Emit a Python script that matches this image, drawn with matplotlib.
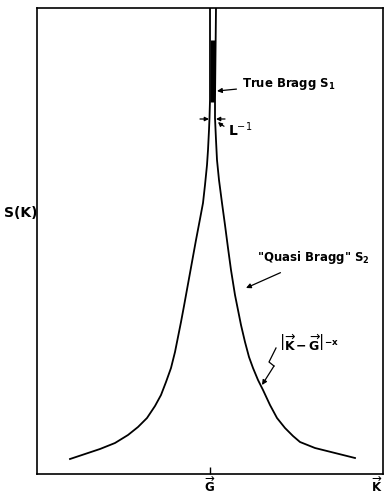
import matplotlib
matplotlib.use("Agg")
import matplotlib.pyplot as plt

# S(K) around the Bragg point G (k = K - G, arbitrary units, S arbitrary units)
# left branch, bottom -> top
k_left = [-140, -125, -110, -95, -82, -72, -63, -55, -49, -44, -39, -35, -32, -29, -26,
          -22, -18, -14, -10, -7, -5, -3, -2, -1, -0.5, 0, 0]
s_left = [15, 20, 25, 31, 39, 47, 56, 68, 79, 92, 106, 122, 137, 152, 168,
          190, 212, 234, 255, 271, 289, 309, 324, 344, 356, 374, 466]
# right branch, top -> bottom
k_right = [6, 5, 5, 6, 7, 9, 12, 15, 18, 21, 25, 28, 31, 35, 39, 43, 48, 53,
           60, 67, 75, 83, 90, 105, 125, 145]
s_right = [466, 374, 356, 334, 314, 294, 271, 249, 226, 204, 179, 164, 149, 132, 117, 106, 94, 84,
           69, 56, 46, 38, 32, 26, 21, 16]
# the true Bragg spike (filled part)
spike_s = [372, 434]
spike_k0 = [0, 0.5]
spike_k1 = [4.5, 5.5]

plt.rcParams['font.family'] = ['DejaVu Sans']
plt.rcParams['mathtext.fontset'] = 'dejavusans'

fig = plt.figure(figsize=(3.88, 4.95), dpi=100)
ax = fig.add_axes([37/388, 21/495, 346/388, 466/495])
ax.set_xlim(-173, 173)
ax.set_ylim(0, 466)

ax.plot(k_left, s_left, color='black', lw=1.3, solid_joinstyle='round')
ax.plot(k_right, s_right, color='black', lw=1.3, solid_joinstyle='round')
ax.fill_betweenx(spike_s, spike_k0, spike_k1, color='black', lw=0)

for sp in ax.spines.values():
    sp.set_linewidth(1.2)
ax.set_xticks([0])
ax.set_xticklabels([])
ax.set_yticks([])
ax.tick_params(axis='x', direction='in', length=5, width=1)

fs = 8.5
arr = dict(arrowstyle='-|>', color='black', lw=0.9, mutation_scale=7, shrinkA=0, shrinkB=0)

# True Bragg
ax.annotate(r'True Bragg S$_\mathregular{1}$', xy=(7, 383), xytext=(32, 390),
            fontsize=fs, fontweight='bold', va='center', ha='left',
            arrowprops=dict(arr, shrinkA=2))
# L^-1 width arrows
ax.annotate('', xy=(-1, 355), xytext=(-10, 355), arrowprops=dict(arr, mutation_scale=6))
ax.annotate('', xy=(6, 355), xytext=(15, 355), arrowprops=dict(arr, mutation_scale=6))
ax.annotate(r'L$^{-1}$', xy=(8, 352), xytext=(18, 344),
            fontsize=fs + 1.5, fontweight='bold', va='center', ha='left',
            arrowprops=dict(arr, mutation_scale=6, shrinkA=1, connectionstyle='arc3,rad=-0.2'))
# Quasi Bragg
ax.annotate(r'"Quasi Bragg" S$_\mathregular{2}$', xy=(36, 186), xytext=(47, 216),
            fontsize=fs, fontweight='bold', va='center', ha='left',
            arrowprops=dict(arr, shrinkA=6))
# power law
ax.text(69, 130, r'$\left|\overrightarrow{\mathbf{K}}\,\mathbf{-}\,\overrightarrow{\mathbf{G}}\right|^{\mathbf{-x}}$',
        fontsize=fs + 0.5, va='center', ha='left')
ax.plot([66, 59, 64], [126, 112, 108], color='black', lw=0.9)
ax.annotate('', xy=(52, 89), xytext=(64, 108), arrowprops=arr)

# axis labels
fig.text(21/388, 1 - 213/495, 'S(K)', fontsize=fs + 1.5, fontweight='bold', ha='center', va='center')
ax.text(0, -1, r'$\overrightarrow{\mathbf{G}}$', fontsize=fs, ha='center', va='top', clip_on=False)
ax.text(167, -1, r'$\overrightarrow{\mathbf{K}}$', fontsize=fs, ha='center', va='top', clip_on=False)

fig.savefig('out.png', dpi=100)
